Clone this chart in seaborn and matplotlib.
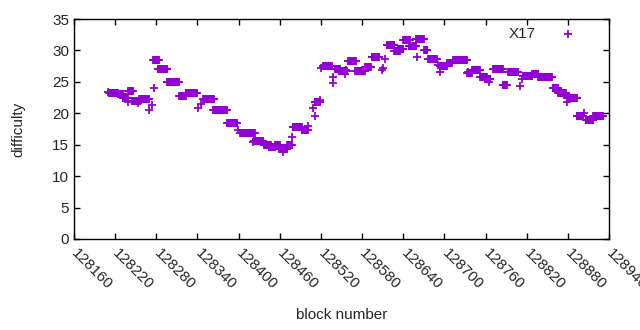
import numpy as np
import pandas as pd
import matplotlib
matplotlib.use("Agg")
import matplotlib.pyplot as plt
import matplotlib.transforms as mtrans
import seaborn as sns

# runs of consecutive blocks that share one difficulty: first block, last block, value
run_first = [128211, 128224, 128231, 128239, 128245, 128255, 128275, 128282, 128296, 128313,
             128323, 128348, 128363, 128385, 128402, 128422, 128437, 128444, 128453, 128459,
             128471, 128479, 128492, 128511, 128523, 128541, 128546, 128560, 128570, 128584,
             128594, 128616, 128627, 128632, 128640, 128648, 128659, 128670, 128676, 128694,
             128704, 128713, 128733, 128740, 128752, 128759, 128771, 128785, 128793, 128815,
             128828, 128837, 128858, 128866, 128879, 128893, 128906, 128917]
run_last = [128224, 128231, 128239, 128246, 128256, 128269, 128284, 128296, 128313, 128323,
            128339, 128364, 128383, 128398, 128424, 128436, 128447, 128453, 128460, 128471,
            128478, 128492, 128501, 128519, 128536, 128548, 128558, 128571, 128584, 128593,
            128605, 128627, 128635, 128640, 128650, 128659, 128670, 128675, 128689, 128704,
            128711, 128733, 128740, 128752, 128762, 128767, 128785, 128791, 128807, 128828,
            128837, 128857, 128866, 128877, 128893, 128902, 128917, 128931]
run_diff = [23.3, 23.0, 22.5, 23.6, 22.0, 22.2, 28.5, 27.1, 24.9, 22.75,
            23.3, 22.35, 20.5, 18.45, 16.9, 15.6, 15.0, 14.6, 15.0, 14.3,
            14.9, 17.8, 17.3, 21.8, 27.5, 27.0, 26.7, 28.3, 26.8, 27.4,
            29.0, 30.9, 29.9, 30.2, 31.7, 30.7, 31.8, 30.1, 28.6, 27.5,
            28.0, 28.4, 26.4, 26.9, 25.7, 25.4, 27.0, 24.5, 26.5, 26.0,
            26.2, 25.8, 24.0, 23.2, 22.4, 19.5, 19.0, 19.6]

# single blocks off the runs
one_block = [128210, 128239, 128253, 128269, 128274, 128277, 128341, 128345, 128383, 128399,
             128421, 128465, 128478, 128501, 128508, 128511, 128519, 128520, 128538, 128537,
             128557, 128555, 128596, 128609, 128610, 128613, 128660, 128691, 128694, 128734,
             128765, 128788, 128810, 128813, 128879, 128904]
one_diff = [23.4, 21.8, 21.7, 20.5, 21.3, 24.0, 20.8, 21.5, 18.4, 17.3,
            15.5, 13.9, 16.3, 17.9, 20.8, 19.5, 22.1, 27.2, 25.8, 24.8,
            26.9, 26.2, 29.0, 26.9, 27.2, 28.6, 29.0, 27.7, 26.6, 26.5,
            25.0, 24.5, 24.3, 25.4, 21.8, 20.1]

x_ticks = list(range(128160, 128941, 60))

blocks, diffs = [], []
for a, b, d in zip(run_first, run_last, run_diff):
    for blk in range(a, b + 1):
        blocks.append(blk)
        diffs.append(d)
blocks += one_block
diffs += one_diff
df = pd.DataFrame({"block": blocks, "difficulty": diffs})

sns.set_style("ticks")
plt.rcParams["font.family"] = ["Liberation Sans", "DejaVu Sans"]
fs = 11

fig = plt.figure(figsize=(6.4, 3.3), dpi=100)
ax = fig.add_axes([0.1156, 0.2758, 0.8360, 0.6666])

sns.scatterplot(data=df, x="block", y="difficulty", marker="+", color="#9400D3",
                s=30, linewidth=1.3, ax=ax, label="X17")

ax.set_xlim(128160, 128940)
ax.set_ylim(0, 35)
ax.set_xticks(x_ticks)
ax.set_xticklabels([str(t) for t in x_ticks], rotation=-45, ha="left", va="center",
                   rotation_mode="anchor", fontsize=fs)
# nudge the slanted labels right so they start at the tick like gnuplot
shift = mtrans.ScaledTranslation(4 / 100, 0, fig.dpi_scale_trans)
for lab in ax.get_xticklabels():
    lab.set_transform(lab.get_transform() + shift)
ax.set_yticks(range(0, 36, 5))
ax.tick_params(axis="y", labelsize=fs)
ax.tick_params(axis="x", pad=9)
ax.tick_params(direction="in", length=4, width=1, top=True, right=True, color="black")
for sp in ax.spines.values():
    sp.set_visible(True)
    sp.set_color("black")
    sp.set_linewidth(1)
ax.set_xlabel("block number", fontsize=fs)
ax.xaxis.set_label_coords(0.5, -0.312)
ax.set_ylabel("difficulty", fontsize=fs, labelpad=19)

ax.legend(loc="upper right", frameon=False, markerfirst=False, fontsize=fs,
          handletextpad=1.15, borderaxespad=0.1, bbox_to_anchor=(0.967, 1.0))

fig.savefig("out.png", dpi=100)
